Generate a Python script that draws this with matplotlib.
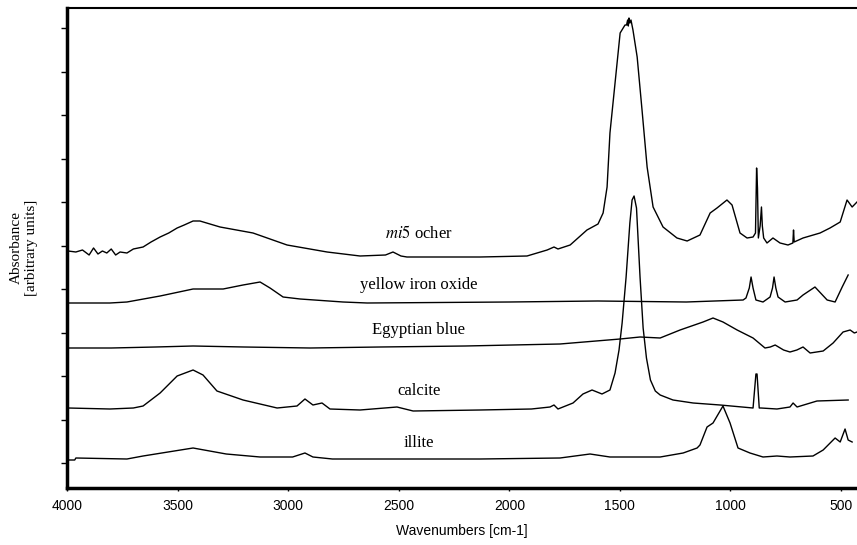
import numpy as np
import matplotlib.pyplot as plt

# FTIR spectra, stacked (absorbance in arbitrary units, offsets included)
ocher_wn = [3995, 3960, 3930, 3900, 3880, 3860, 3840, 3820, 3800, 3780, 3760,
            3729, 3700, 3656, 3620, 3579, 3540, 3502, 3470, 3430, 3399, 3308,
            3159, 3005, 2824, 2675, 2560, 2526, 2490, 2463, 2132, 1920, 1829,
            1798, 1780, 1725, 1649, 1599, 1576, 1558, 1545, 1522, 1499, 1477,
            1470, 1465, 1462, 1459, 1455, 1450, 1441, 1422, 1400, 1377, 1350,
            1305, 1242, 1196, 1138, 1092, 1061, 1016, 993, 957, 925, 898, 887,
            882, 878, 874, 866, 860, 856, 850, 835, 808, 776, 740, 718, 715,
            712, 672, 595, 550, 504, 473, 450, 428]
ocher_ab = [237, 236, 238, 233, 240, 234, 237, 235, 239, 233, 236,
            235, 239, 241, 246, 251, 255, 260, 263, 267, 267, 261,
            255, 243, 236, 232, 233, 236, 232, 231, 231, 232, 238,
            241, 239, 243, 258, 264, 275, 301, 355, 405, 455, 463,
            463, 468, 462, 470, 465, 468, 458, 431, 378, 321, 281,
            261, 250, 247, 253, 275, 280, 288, 283, 255, 250, 251, 255,
            320, 300, 250, 262, 281, 262, 250, 245, 250, 245, 243, 245, 258,
            246, 250, 255, 260, 266, 288, 281, 286]

yellow_wn = [3995, 3806, 3729, 3579, 3430, 3294, 3204, 3127, 3082, 3023, 2946,
             2752, 2643, 2000, 1600, 1200, 943, 930, 915, 907, 898, 885, 853,
             821, 810, 803, 795, 785, 753, 699, 672, 618, 563, 527, 495, 468]
yellow_ab = [185, 185, 186, 192, 199, 199, 203, 206, 200, 191, 189,
             186, 185, 186, 187, 186, 188, 190, 200, 211, 200, 188, 186,
             191, 200, 211, 200, 191, 186, 188, 193, 201, 188, 186, 201, 213]

egypt_wn = [4000, 3800, 3600, 3430, 3200, 2900, 2585, 2200, 1771, 1499, 1409,
            1318, 1228, 1124, 1079, 1034, 970, 898, 844, 820, 798, 760, 731,
            700, 672, 640, 581, 536, 491, 459, 440, 428]
egypt_ab = [140, 140, 141, 142, 141, 140, 141, 142, 144, 149, 151,
            150, 158, 166, 170, 166, 158, 150, 140, 141, 143, 138, 136,
            138, 141, 135, 137, 145, 156, 158, 155, 156]

calcite_wn = [3995, 3806, 3700, 3656, 3579, 3502, 3430, 3385, 3322, 3204, 3050,
              2960, 2924, 2888, 2847, 2811, 2675, 2508, 2435, 2132, 1900, 1816,
              1798, 1780, 1712, 1667, 1626, 1581, 1545, 1522, 1504, 1490, 1472,
              1455, 1445, 1436, 1425, 1409, 1395, 1380, 1362, 1340, 1318, 1260,
              1169, 1047, 898, 885, 880, 870, 862, 790, 731, 717, 699, 609, 468]
calcite_ab = [80, 79, 80, 82, 95, 112, 118, 113, 97, 88, 80,
              82, 89, 83, 85, 79, 78, 81, 77, 78, 79, 81,
              83, 79, 85, 94, 98, 94, 98, 115, 138, 165, 211,
              265, 288, 292, 280, 211, 160, 130, 108, 97, 93, 88,
              85, 83, 80, 114, 114, 80, 80, 79, 81, 85, 81, 87, 88]

illite_wn = [3995, 3965, 3960, 3729, 3656, 3430, 3280, 3127, 2980, 2924, 2888,
             2800, 2132, 1771, 1635, 1545, 1318, 1214, 1151, 1138, 1106, 1079,
             1034, 1002, 966, 912, 853, 790, 731, 627, 581, 527, 504, 482, 468,
             450]
illite_ab = [28, 28, 30, 29, 32, 40, 34, 31, 31, 35, 31,
             29, 29, 30, 34, 31, 31, 35, 40, 43, 61, 65,
             82, 65, 40, 35, 31, 32, 31, 32, 38, 50, 46, 59, 48,
             46]

x_ticks = [4000, 3500, 3000, 2500, 2000, 1500, 1000, 500]

fig = plt.figure(figsize=(8.57, 5.45), dpi=100)
ax = fig.add_axes([67/857, 1 - 488/545, 1 - 67/857, 480/545])

for wn, ab in [(ocher_wn, ocher_ab), (yellow_wn, yellow_ab),
               (egypt_wn, egypt_ab), (calcite_wn, calcite_ab),
               (illite_wn, illite_ab)]:
    ax.plot(wn, ab, color="k", lw=1.0)

ax.set_xlim(4000, 428)
ax.set_ylim(0, 480)

# labels sit just above each spectrum
serif = "Liberation Serif"
lx = 2410
ax.text(lx, 254, r"$\it{mi5}$ ocher", ha="center", va="center",
        fontsize=12, family=serif, math_fontfamily="stix")
ax.text(lx, 203, "yellow iron oxide", ha="center", va="center",
        fontsize=12, family=serif)
ax.text(lx, 158, "Egyptian blue", ha="center", va="center",
        fontsize=12, family=serif)
ax.text(lx, 97, "calcite", ha="center", va="center",
        fontsize=12, family=serif)
ax.text(lx, 45, "illite", ha="center", va="center",
        fontsize=12, family=serif)

sans = "Liberation Sans"
ax.set_xticks(x_ticks)
ax.set_xticklabels([str(t) for t in x_ticks], family=sans, fontsize=10)
ax.set_yticks(np.arange(25, 470, 43.5))
ax.set_yticklabels([])
ax.tick_params(axis="y", direction="out", length=4, width=1)
ax.tick_params(axis="x", direction="out", length=2, width=1, pad=6)

ax.set_xlabel("Wavenumbers [cm-1]", family=sans, fontsize=10, labelpad=8)
fig.text(0.028, 1 - 248/545, "Absorbance\n[arbitrary units]", rotation=90,
         ha="center", va="center", fontsize=11, family=serif, linespacing=1.2)

ax.spines["right"].set_visible(False)
ax.spines["left"].set_linewidth(2.5)
ax.spines["bottom"].set_linewidth(2.5)
ax.spines["top"].set_linewidth(1.5)

fig.savefig("out.png", dpi=100)
